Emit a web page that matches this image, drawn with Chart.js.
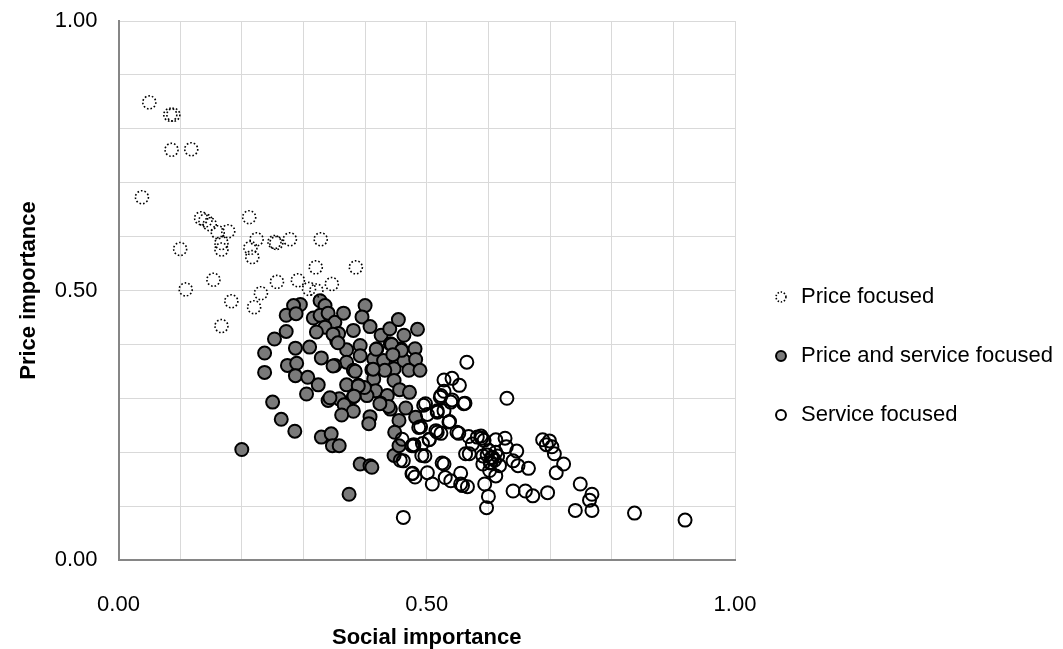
<!DOCTYPE html>
<html>
<head>
<meta charset="utf-8">
<title>Price vs social importance</title>
<script src="https://cdn.jsdelivr.net/npm/chart.js@4.4.1/dist/chart.umd.min.js"></script>
<style>
  html, body { margin: 0; padding: 0; background: #fff; }
  canvas { display: block; }
</style>
</head>
<body>
<canvas id="scatterChart" width="1063" height="649"></canvas>
<script>
// [social importance, price importance]
const priceFocused = [
  [0.050, 0.849], [0.084, 0.826], [0.089, 0.826], [0.086, 0.761], [0.118, 0.762],
  [0.038, 0.673], [0.134, 0.634], [0.141, 0.630], [0.148, 0.623], [0.161, 0.608],
  [0.178, 0.610], [0.212, 0.636], [0.167, 0.588], [0.167, 0.576], [0.100, 0.577],
  [0.224, 0.595], [0.214, 0.579], [0.217, 0.562], [0.253, 0.590], [0.256, 0.588],
  [0.278, 0.595], [0.328, 0.595], [0.320, 0.543], [0.385, 0.543], [0.257, 0.516],
  [0.291, 0.519], [0.309, 0.503], [0.321, 0.500], [0.346, 0.512], [0.109, 0.502],
  [0.154, 0.520], [0.231, 0.495], [0.220, 0.469], [0.183, 0.480], [0.167, 0.434]
];

const priceAndService = [
  [0.295, 0.474], [0.284, 0.472], [0.272, 0.454], [0.288, 0.457], [0.327, 0.481],
  [0.335, 0.472], [0.316, 0.449], [0.327, 0.454], [0.340, 0.458], [0.351, 0.441],
  [0.365, 0.458], [0.335, 0.432], [0.321, 0.423], [0.272, 0.424], [0.253, 0.410],
  [0.237, 0.384], [0.287, 0.393], [0.310, 0.395], [0.329, 0.375], [0.354, 0.407],
  [0.357, 0.420], [0.370, 0.390], [0.381, 0.426], [0.392, 0.398], [0.400, 0.472],
  [0.395, 0.451], [0.408, 0.433], [0.426, 0.417], [0.440, 0.429], [0.454, 0.446],
  [0.463, 0.417], [0.485, 0.428], [0.441, 0.401], [0.419, 0.392], [0.458, 0.392],
  [0.481, 0.392], [0.414, 0.373], [0.430, 0.370], [0.447, 0.355], [0.463, 0.370],
  [0.482, 0.372], [0.471, 0.352], [0.489, 0.352], [0.370, 0.367], [0.351, 0.361],
  [0.381, 0.352], [0.411, 0.353], [0.392, 0.379], [0.237, 0.348], [0.274, 0.361],
  [0.289, 0.365], [0.287, 0.342], [0.307, 0.339], [0.324, 0.325], [0.370, 0.325],
  [0.389, 0.324], [0.414, 0.336], [0.417, 0.314], [0.403, 0.305], [0.436, 0.305],
  [0.447, 0.333], [0.456, 0.316], [0.472, 0.311], [0.381, 0.303], [0.305, 0.308],
  [0.340, 0.296], [0.358, 0.299], [0.366, 0.288], [0.381, 0.276], [0.362, 0.269],
  [0.425, 0.291], [0.441, 0.280], [0.466, 0.282], [0.482, 0.265], [0.455, 0.259],
  [0.408, 0.266], [0.406, 0.253], [0.448, 0.237], [0.447, 0.194], [0.455, 0.212],
  [0.250, 0.293], [0.264, 0.261], [0.286, 0.239], [0.329, 0.228], [0.345, 0.234],
  [0.347, 0.212], [0.358, 0.212], [0.200, 0.205], [0.392, 0.178], [0.408, 0.175],
  [0.411, 0.172], [0.374, 0.122], [0.443, 0.400], [0.459, 0.389], [0.445, 0.381],
  [0.432, 0.352], [0.399, 0.320], [0.418, 0.391], [0.413, 0.354], [0.348, 0.419],
  [0.356, 0.403], [0.348, 0.360], [0.384, 0.350], [0.389, 0.323], [0.343, 0.301],
  [0.438, 0.285], [0.424, 0.290], [0.382, 0.304]
];

const serviceFocused = [
  [0.565, 0.367], [0.528, 0.334], [0.541, 0.337], [0.553, 0.324], [0.523, 0.305],
  [0.528, 0.313], [0.541, 0.297], [0.562, 0.291], [0.630, 0.300], [0.498, 0.290],
  [0.517, 0.274], [0.528, 0.277], [0.501, 0.270], [0.537, 0.257], [0.490, 0.247],
  [0.515, 0.240], [0.523, 0.235], [0.552, 0.235], [0.568, 0.229], [0.504, 0.223],
  [0.493, 0.216], [0.479, 0.212], [0.497, 0.193], [0.462, 0.184], [0.574, 0.215],
  [0.589, 0.226], [0.612, 0.223], [0.627, 0.226], [0.629, 0.210], [0.646, 0.202],
  [0.569, 0.197], [0.591, 0.193], [0.601, 0.203], [0.607, 0.190], [0.615, 0.193],
  [0.604, 0.181], [0.618, 0.175], [0.591, 0.178], [0.602, 0.166], [0.612, 0.156],
  [0.640, 0.184], [0.648, 0.175], [0.665, 0.170], [0.688, 0.223], [0.699, 0.221],
  [0.703, 0.210], [0.694, 0.214], [0.707, 0.197], [0.722, 0.178], [0.710, 0.162],
  [0.477, 0.161], [0.481, 0.154], [0.501, 0.162], [0.509, 0.141], [0.528, 0.178],
  [0.530, 0.153], [0.539, 0.147], [0.555, 0.161], [0.555, 0.141], [0.566, 0.136],
  [0.594, 0.141], [0.600, 0.118], [0.597, 0.097], [0.640, 0.128], [0.660, 0.128],
  [0.672, 0.119], [0.696, 0.125], [0.749, 0.141], [0.768, 0.122], [0.764, 0.111],
  [0.741, 0.092], [0.768, 0.092], [0.837, 0.087], [0.919, 0.074], [0.462, 0.079],
  [0.460, 0.224], [0.479, 0.214], [0.504, 0.224], [0.517, 0.237], [0.588, 0.230],
  [0.605, 0.190], [0.610, 0.185], [0.598, 0.195], [0.612, 0.200], [0.603, 0.180],
  [0.495, 0.287], [0.517, 0.277], [0.522, 0.302], [0.539, 0.293], [0.560, 0.290],
  [0.487, 0.246], [0.536, 0.256], [0.549, 0.237], [0.476, 0.212], [0.492, 0.194],
  [0.457, 0.185], [0.476, 0.160], [0.525, 0.180], [0.558, 0.138], [0.563, 0.197],
  [0.582, 0.228], [0.593, 0.222]
];

const seriesNames = ['Price focused', 'Price and service focused', 'Service focused'];
const axisTicks = [0, 0.5, 1];

const toPoints = arr => arr.map(p => ({ x: p[0], y: p[1] }));

Chart.defaults.font.family = '"Liberation Sans", Arial, sans-serif';
Chart.defaults.font.size = 22;
Chart.defaults.color = '#000';

// points of the first series get a dotted outline
const dottedPoints = {
  id: 'dottedPoints',
  beforeDatasetDraw(chart, args) {
    if (chart.data.datasets[args.index].dotted) chart.ctx.setLineDash([1.6, 2]);
  },
  afterDatasetDraw(chart) {
    chart.ctx.setLineDash([]);
  }
};

// the layout caps a side legend at a quarter of the width, the legend here is wider
const wideLegend = {
  id: 'wideLegend',
  afterInit(chart) {
    const legend = chart.legend;
    const fit = legend.fit;
    legend.fit = function () {
      fit.call(this);
      this.width = 328;
    };
  }
};

const tickLabel = v => axisTicks.some(t => Math.abs(t - v) < 1e-6) ? v.toFixed(2) : '';

const ctx = document.getElementById('scatterChart').getContext('2d');
new Chart(ctx, {
  type: 'scatter',
  data: {
    datasets: [{
      label: seriesNames[0],
      data: toPoints(priceFocused),
      dotted: true,
      backgroundColor: 'rgba(255,255,255,0)',
      borderColor: '#000',
      borderWidth: 1.6,
      pointRadius: 6.5,
      order: 0
    }, {
      label: seriesNames[1],
      data: toPoints(priceAndService),
      backgroundColor: '#7a7a7a',
      borderColor: '#000',
      borderWidth: 2,
      pointRadius: 6.5,
      order: 2
    }, {
      label: seriesNames[2],
      data: toPoints(serviceFocused),
      backgroundColor: 'rgba(255,255,255,0)',
      borderColor: '#000',
      borderWidth: 2,
      pointRadius: 6.5,
      order: 1
    }]
  },
  options: {
    responsive: false,
    animation: false,
    layout: { padding: { top: 21, right: 0, bottom: 0, left: 0 } },
    plugins: {
      tooltip: { enabled: false },
      legend: {
        position: 'right',
        title: { display: true, text: '', padding: 10, font: { size: 22, lineHeight: 1 } },
        labels: {
          usePointStyle: true,
          boxWidth: 18,
          boxHeight: 7,
          padding: 37,
          color: '#000',
          font: { size: 22 },
          generateLabels(chart) {
            const items = Chart.defaults.plugins.legend.labels.generateLabels(chart);
            items.forEach(it => {
              if (chart.data.datasets[it.datasetIndex].dotted) it.lineDash = [1.4, 1.8];
            });
            return items.sort((a, b) => a.datasetIndex - b.datasetIndex);
          }
        }
      }
    },
    scales: {
      x: {
        type: 'linear',
        min: 0,
        max: 1,
        afterFit(scale) { scale.height = 89; },
        ticks: { stepSize: 0.1, padding: 32, callback: tickLabel, autoSkip: false, maxRotation: 0 },
        grid: { color: '#d9d9d9', lineWidth: 1, drawTicks: false },
        border: { color: '#868686', width: 2 },
        title: {
          display: true,
          text: 'Social importance',
          font: { size: 22, weight: 'bold', lineHeight: 1 },
          padding: { top: 0, bottom: 0 }
        }
      },
      y: {
        type: 'linear',
        min: 0,
        max: 1,
        afterFit(scale) {
          scale.width = 118.5;
          scale.paddingTop = 0;
          scale.paddingBottom = 0;
        },
        ticks: { stepSize: 0.1, padding: 21, callback: tickLabel, autoSkip: false },
        grid: { color: '#d9d9d9', lineWidth: 1, drawTicks: false },
        border: { color: '#868686', width: 2 },
        title: {
          display: true,
          text: 'Price importance',
          font: { size: 22, weight: 'bold', lineHeight: 1 },
          padding: { top: 18, bottom: 0 }
        }
      }
    }
  },
  plugins: [dottedPoints, wideLegend]
});
</script>
</body>
</html>
